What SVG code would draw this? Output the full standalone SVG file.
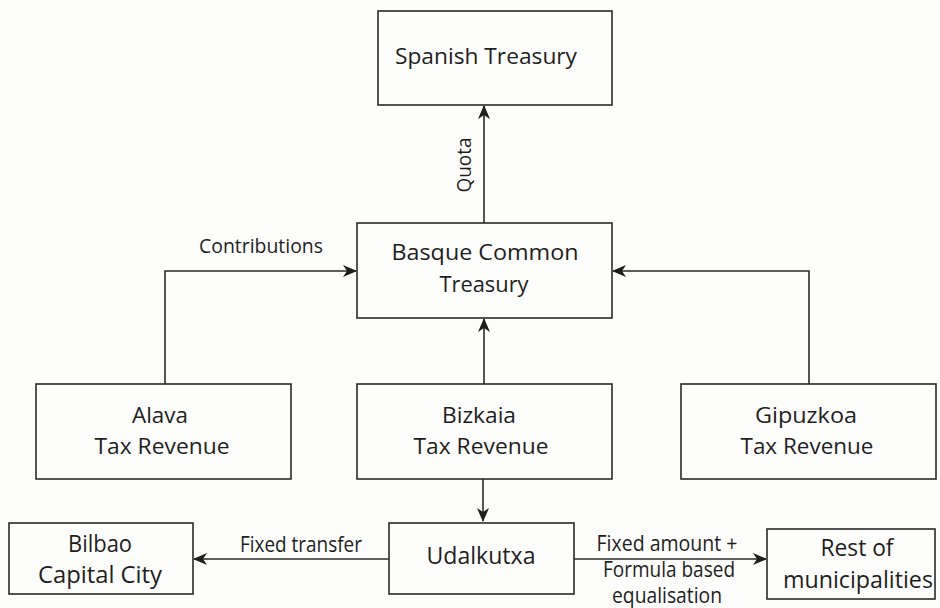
<svg xmlns="http://www.w3.org/2000/svg" width="940" height="608" viewBox="0 0 940 608">
<style>
  .box { fill: #fdfdfb; stroke: #2a2a2a; stroke-width: 1.6; }
  .lbl { font-family: "Open Sans", "Liberation Sans", sans-serif; font-size: 21px; fill: #1e1e1e; text-anchor: middle; }
  .sm { font-family: "Open Sans", "Liberation Sans", sans-serif; font-size: 19.5px; fill: #1e1e1e; text-anchor: middle; }
  .cn { font-family: "Open Sans", "Liberation Sans", sans-serif; font-size: 21px; fill: #1e1e1e; text-anchor: middle; }
  .cb { font-family: "Open Sans", "Liberation Sans", sans-serif; font-size: 23px; fill: #1e1e1e; text-anchor: middle; }
  .ln { fill: none; stroke: #2a2a2a; stroke-width: 1.6; }
</style>
<defs>
  <marker id="arr" markerWidth="14" markerHeight="12" refX="13" refY="6" orient="auto" markerUnits="userSpaceOnUse">
    <path d="M0,0 L14,6 L0,12 L4,6 z" fill="#1e1e1e"/>
  </marker>
</defs>
<rect x="0" y="0" width="940" height="608" fill="#fdfdfb"/>

<g id="connectors">
  <path class="ln" d="M484,223 V106" marker-end="url(#arr)"/>
  <path class="ln" d="M165,384 V271 H356" marker-end="url(#arr)"/>
  <path class="ln" d="M809,384 V271 H613" marker-end="url(#arr)"/>
  <path class="ln" d="M484,384 V319" marker-end="url(#arr)"/>
  <path class="ln" d="M483,479 V521" marker-end="url(#arr)"/>
  <path class="ln" d="M389,559 H194" marker-end="url(#arr)"/>
  <path class="ln" d="M574,559 H766" marker-end="url(#arr)"/>
  <text class="sm" transform="translate(471,165) rotate(-90)" textLength="55" lengthAdjust="spacingAndGlyphs">Quota</text>
  <text class="sm" x="261" y="253" textLength="124" lengthAdjust="spacingAndGlyphs">Contributions</text>
  <text class="cn" x="301" y="552" textLength="122" lengthAdjust="spacingAndGlyphs">Fixed transfer</text>
  <text class="cn" x="667" y="551" textLength="141" lengthAdjust="spacingAndGlyphs">Fixed amount +</text>
  <text class="cn" x="669" y="577" textLength="132" lengthAdjust="spacingAndGlyphs">Formula based</text>
  <text class="cn" x="667" y="603" textLength="110" lengthAdjust="spacingAndGlyphs">equalisation</text>
</g>

<g id="spanish">
  <rect class="box" x="378" y="11" width="234" height="94"/>
  <text class="lbl" x="486" y="64" textLength="182" lengthAdjust="spacingAndGlyphs">Spanish Treasury</text>
</g>
<g id="basque">
  <rect class="box" x="357" y="223" width="255" height="95"/>
  <text class="lbl" x="485" y="260" textLength="187" lengthAdjust="spacingAndGlyphs">Basque Common</text>
  <text class="lbl" x="484" y="292" textLength="89" lengthAdjust="spacingAndGlyphs">Treasury</text>
</g>
<g id="alava">
  <rect class="box" x="36" y="384" width="255" height="95"/>
  <text class="lbl" x="160" y="423" textLength="56" lengthAdjust="spacingAndGlyphs">Alava</text>
  <text class="lbl" x="162" y="454" textLength="135" lengthAdjust="spacingAndGlyphs">Tax Revenue</text>
</g>
<g id="bizkaia">
  <rect class="box" x="357" y="384" width="255" height="95"/>
  <text class="lbl" x="479" y="423" textLength="74" lengthAdjust="spacingAndGlyphs">Bizkaia</text>
  <text class="lbl" x="481" y="454" textLength="135" lengthAdjust="spacingAndGlyphs">Tax Revenue</text>
</g>
<g id="gipuzkoa">
  <rect class="box" x="681" y="384" width="255" height="95"/>
  <text class="lbl" x="806" y="423" textLength="102" lengthAdjust="spacingAndGlyphs">Gipuzkoa</text>
  <text class="lbl" x="807" y="454" textLength="133" lengthAdjust="spacingAndGlyphs">Tax Revenue</text>
</g>
<g id="bilbao">
  <rect class="box" x="9" y="523" width="184" height="71"/>
  <text class="cb" x="100" y="552" textLength="64" lengthAdjust="spacingAndGlyphs">Bilbao</text>
  <text class="cb" x="100" y="583" textLength="124" lengthAdjust="spacingAndGlyphs">Capital City</text>
</g>
<g id="udalkutxa">
  <rect class="box" x="389" y="523" width="185" height="71"/>
  <text class="cb" x="481" y="564" textLength="109" lengthAdjust="spacingAndGlyphs">Udalkutxa</text>
</g>
<g id="rest">
  <rect class="box" x="767" y="529" width="168" height="70"/>
  <text class="cb" x="857" y="556" textLength="73" lengthAdjust="spacingAndGlyphs">Rest of</text>
  <text class="cb" x="858" y="588" textLength="150" lengthAdjust="spacingAndGlyphs">municipalities</text>
</g>
</svg>
